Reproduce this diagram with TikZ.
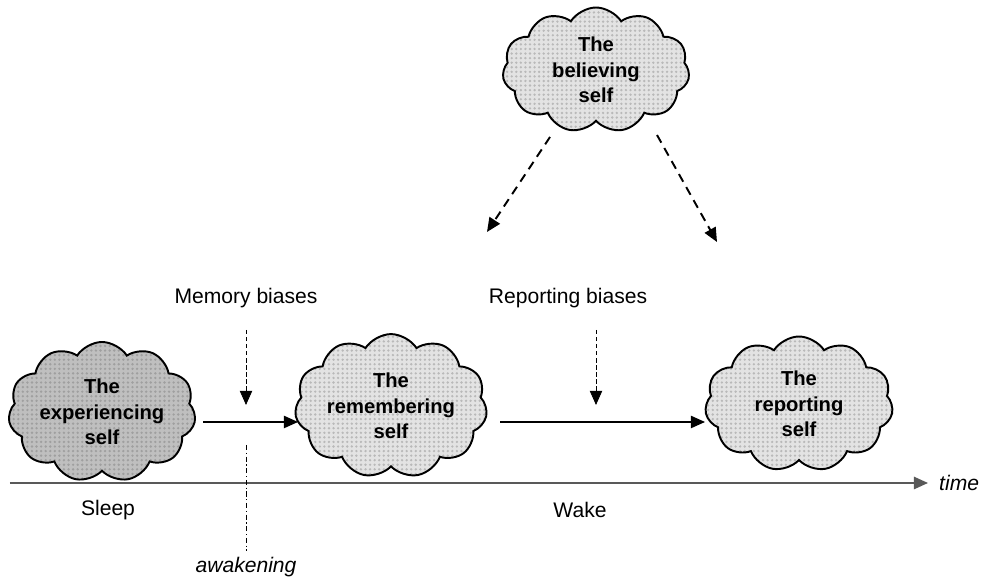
\documentclass[tikz,border=0pt]{standalone}
\usepackage{fontspec}
\setmainfont{Liberation Sans}
\usepackage{tikz}
\usetikzlibrary{positioning, shapes.symbols, patterns.meta, arrows.meta}
\tikzset{Cloud/.style={%
    shape=cloud,%
    cloud puffs=11,%
    cloud puff arc=115,%
    aspect=1.5,%
    draw=black,%
    line width=1.1pt,%
    preaction={fill=gray!22},%
    pattern={Dots[distance=2.6pt, radius=0.75pt]},%
    pattern color=gray!55,%
    align=center,%
    font=\bfseries\fontsize{11.5}{14.5}\selectfont,%
    inner sep=0pt,%
}}
\tikzset{DarkCloud/.style={%
    Cloud,%
    preaction={fill=gray!50},%
    pattern color=gray!75,%
}}
\tikzset{FlowEdge/.style={%
    -{Triangle[length=8pt,width=7pt]},
    line width=0.7pt,%
}}
\tikzset{BeliefEdge/.style={%
    -{Triangle[length=8pt,width=7pt]},
    line width=1.1pt,%
    dash pattern=on 5pt off 3.5pt,%
}}
\tikzset{BiasEdge/.style={%
    -{Triangle[length=8pt,width=7pt]},
    line width=0.5pt,%
    dash pattern=on 2.5pt off 1.5pt,%
}}
\tikzset{Label/.style={%
    font=\fontsize{12}{14}\selectfont,%
}}

\begin{document}
\begin{tikzpicture}
    \useasboundingbox (0,0) rectangle (19.62,11.58);

    % the four selves
    \node[Cloud, minimum width=3.74cm, minimum height=2.5cm] (believe) at (11.92,10.18) {The\\believing\\self};
    \node[DarkCloud, minimum width=3.74cm, minimum height=2.62cm] (exp) at (2.04,3.34) {The\\experiencing\\self};
    \node[Cloud, minimum width=3.74cm, minimum height=2.46cm] (rem) at (7.82,3.46) {The\\remembering\\self};
    \node[Cloud, minimum width=3.76cm, minimum height=2.7cm] (rep) at (15.98,3.5) {The\\reporting\\self};

    % biases
    \node[Label] (mem) at (4.92,5.62) {Memory biases};
    \node[Label] (repb) at (11.36,5.62) {Reporting biases};
    \coordinate (m1) at (4.92,4.98);
    \coordinate (m2) at (4.92,3.48);
    \coordinate (r1) at (11.92,4.98);
    \coordinate (r2) at (11.92,3.48);
    \draw[BiasEdge] (m1) -- (m2);
    \draw[BiasEdge] (r1) -- (r2);

    % flow between selves
    \coordinate (f1) at (4.06,3.14);
    \coordinate (f2) at (5.96,3.14);
    \coordinate (f3) at (10.0,3.14);
    \coordinate (f4) at (14.1,3.14);
    \draw[FlowEdge] (f1) -- (f2);
    \draw[FlowEdge] (f3) -- (f4);

    % beliefs
    \coordinate (b0) at (11.0,8.84);
    \coordinate (b1) at (9.74,6.94);
    \coordinate (b2) at (13.14,8.88);
    \coordinate (b3) at (14.34,6.74);
    \draw[BeliefEdge] (b0) -- (b1);
    \draw[BeliefEdge] (b2) -- (b3);

    % time axis
    \coordinate (t0) at (0.2,1.92);
    \coordinate (t1) at (18.56,1.92);
    \draw[-{Triangle[length=8pt,width=7pt]}, line width=1pt, draw=gray!70!black] (t0) -- (t1);
    \node[Label, font=\itshape\fontsize{12}{14}\selectfont, right=0.1cm of t1] (time) {time};
    \node[Label] (sleep) at (2.16,1.38) {Sleep};
    \node[Label] (wake) at (11.6,1.38) {Wake};

    % awakening
    \node[Label, font=\itshape\fontsize{12}{14}\selectfont] (awake) at (4.92,0.24) {awakening};
    \coordinate (w0) at (4.92,2.68);
    \draw[line width=0.5pt, dash pattern=on 3pt off 1.5pt on 0.6pt off 1.5pt] (w0) -- (awake.north);
\end{tikzpicture}
\end{document}
